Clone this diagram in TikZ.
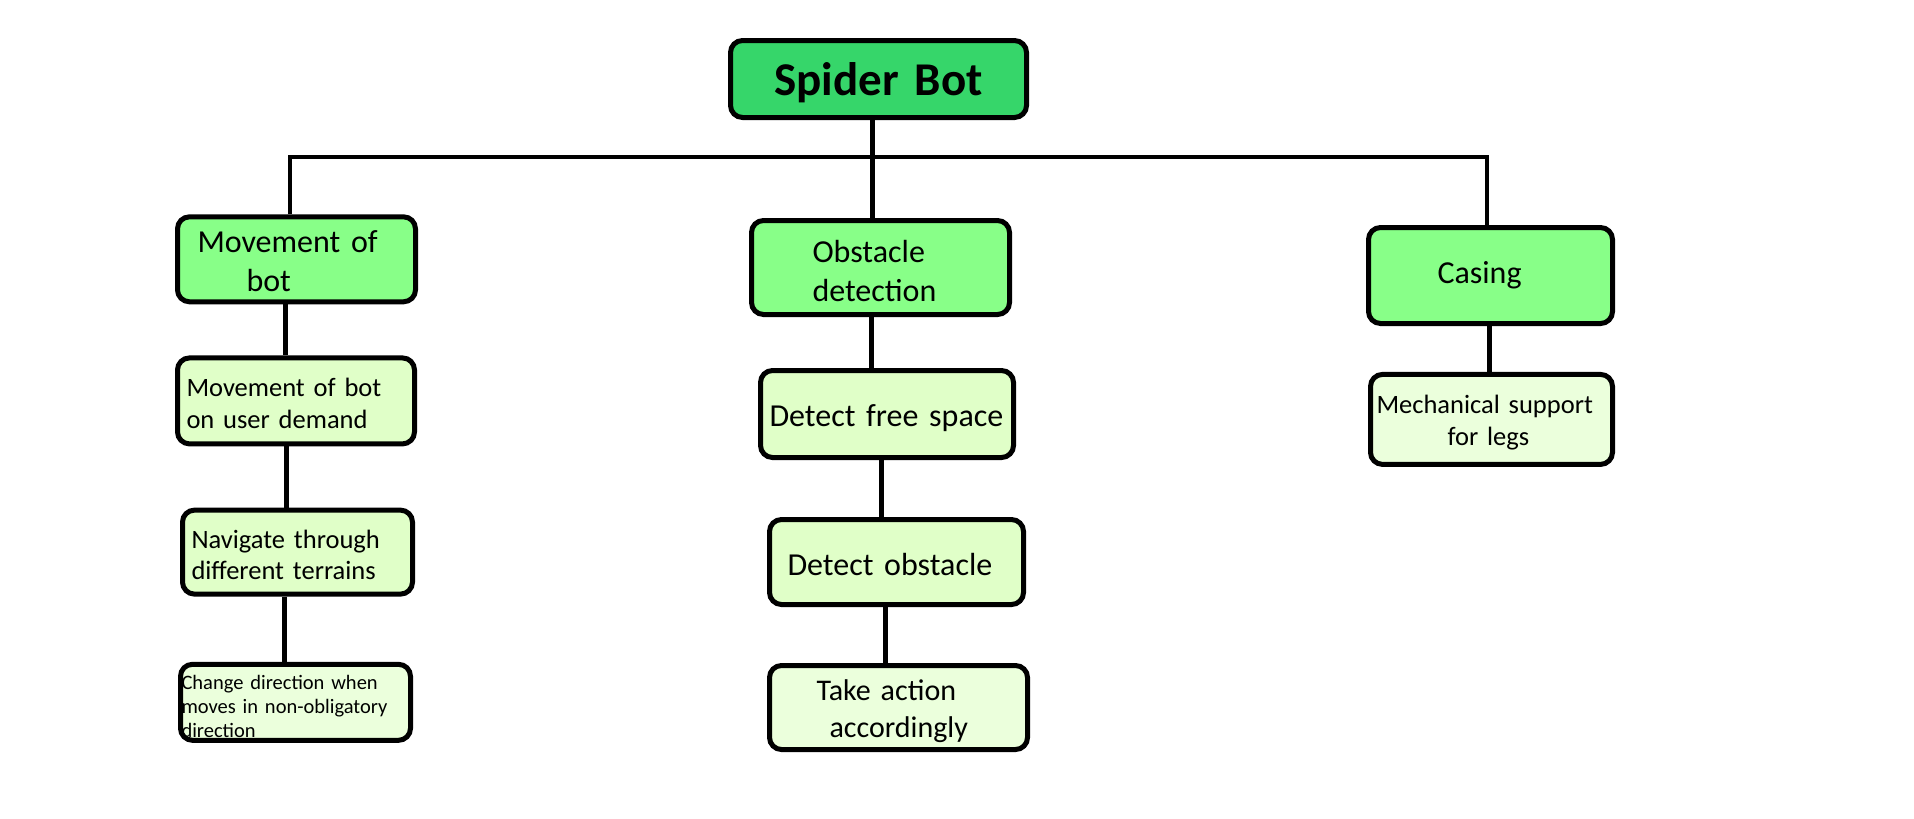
\documentclass[tikz,border=0pt]{standalone}
\usepackage{fontspec}
\setmainfont{Carlito}
\usepackage{tikz}
\usetikzlibrary{calc}
\definecolor{rootgreen}{RGB}{54,214,106}
\definecolor{headgreen}{RGB}{136,255,136}
\definecolor{taskgreen}{RGB}{224,255,200}
\definecolor{palegreen}{RGB}{235,255,220}
\tikzstyle{box}=[draw, line width=5pt, rounded corners=12pt, inner sep=0pt, align=left]
\tikzstyle{head}=[box, fill=headgreen, font=\fontsize{32}{39}\selectfont]
\tikzstyle{task}=[box, fill=taskgreen, font=\fontsize{26.5}{30}\selectfont]
\tikzstyle{wire}=[line width=5pt]
\tikzstyle{bus}=[line width=4.5pt]
\tikzset{rise/.style={text height=#1pt, text depth=0pt},
         sink/.style={text height=0pt, text depth=#1pt}}
\newcommand{\ind}[1]{\hspace*{#1pt}}

\begin{document}
\begin{tikzpicture}[x=1pt,y=-1pt]
\useasboundingbox (0,0) rectangle (1914,819);
% root
\node[box, fill=rootgreen, align=center, font=\fontsize{47}{56}\selectfont\bfseries, text width=296pt, minimum height=77pt, rise=32] (root) at (878.5,79) {Spider Bot};
% first level
\node[head, text width=238pt, minimum height=85pt, sink=12.8] (move) at (296.5,259.3) {\ind{20}Movement of\\\ind{69}bot};
\node[head, text width=258pt, minimum height=94pt, sink=9.6] (obst) at (880.5,267.5) {\ind{61}Obstacle\\\ind{61}detection};
\node[head, text width=244pt, minimum height=96pt, rise=15.6] (casing) at (1490.5,275.5) {\ind{69}Casing};
% second level
\node[task, text width=237pt, minimum height=86pt, font=\fontsize{26.5}{32}\selectfont, sink=9] (demand) at (296,400.9) {\ind{9}Movement of bot\\\ind{9}on user demand};
\node[task, text width=230pt, minimum height=84pt, font=\fontsize{26.5}{31}\selectfont, sink=7.8] (terrain) at (297.5,552.1) {\ind{9}Navigate through\\\ind{9}different terrains};
\node[task, fill=palegreen, text width=230pt, minimum height=76pt, font=\fontsize{20.5}{24}\selectfont, sink=26] (turn) at (295.5,702.3) {\ind{1}Change direction when\\\ind{1}moves in non-obligatory\\\ind{1}direction};
\node[task, text width=253pt, minimum height=87pt, font=\fontsize{32}{39}\selectfont, rise=25.4] (free) at (887,414) {\ind{9}Detect free space};
\node[task, text width=254pt, minimum height=85pt, font=\fontsize{32}{39}\selectfont, rise=26] (detect) at (896.5,562) {\ind{18}Detect obstacle};
\node[task, fill=palegreen, text width=258pt, minimum height=84pt, font=\fontsize{30}{37}\selectfont, sink=15] (action) at (898.5,707.5) {\ind{47}Take action\\\ind{60}accordingly};
\node[task, fill=palegreen, text width=242pt, minimum height=90pt, font=\fontsize{26.5}{32}\selectfont, sink=12] (support) at (1491.5,419.4) {\ind{6}Mechanical support\\\ind{77}for legs};
% bus
\coordinate (busL) at (290,157);
\coordinate (busM) at (872,157);
\coordinate (busR) at (1487,157);
\draw[bus] (move.north -| busL) -- (busL) -- (busR) -- (casing.north -| busR);
\draw[wire] (root.south -| busM) -- (busM |- obst.north);
% branches
\draw[wire] ([xshift=-11.5pt]move.south) -- ([xshift=-11.5pt]move.south |- demand.north);
\draw[wire] ([xshift=-10pt]demand.south) -- ([xshift=-10pt]demand.south |- terrain.north);
\draw[wire] ([xshift=-13.5pt]terrain.south) -- ([xshift=-13.5pt]terrain.south |- turn.north);
\draw[wire] ([xshift=-9.5pt]obst.south) -- ([xshift=-9.5pt]obst.south |- free.north);
\draw[wire] ([xshift=-6pt]free.south) -- ([xshift=-6pt]free.south |- detect.north);
\draw[wire] ([xshift=-11.5pt]detect.south) -- ([xshift=-11.5pt]detect.south |- action.north);
\draw[wire] ([xshift=-1pt]casing.south) -- ([xshift=-1pt]casing.south |- support.north);
\end{tikzpicture}
\end{document}
